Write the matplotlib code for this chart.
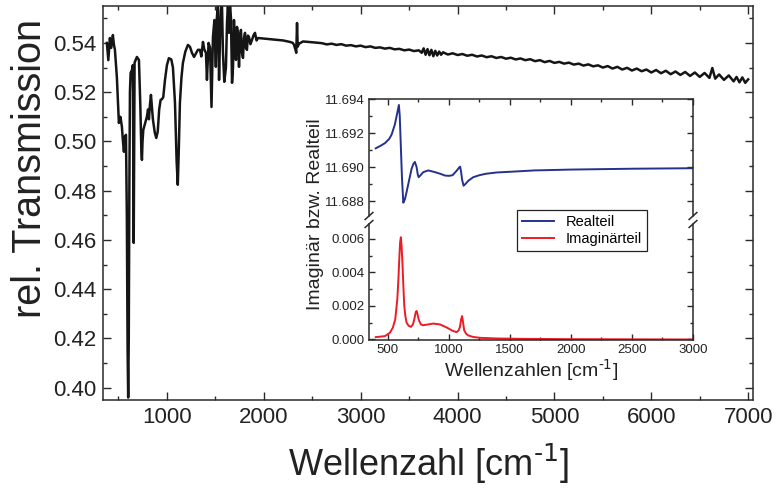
import matplotlib
matplotlib.use("Agg")
import matplotlib.pyplot as plt
from matplotlib.ticker import MultipleLocator, FormatStrFormatter

plt.rcParams["font.family"] = ["Liberation Sans", "DejaVu Sans"]
plt.rcParams["mathtext.default"] = "regular"

# Transmission spectrum (wavenumber in cm^-1, relative transmission)
wn_main = [
    380, 395, 411, 425, 442, 452, 463, 483, 504, 520, 535, 546, 556, 566, 577,
    586, 594, 600, 606, 612, 618, 625, 639, 648, 653, 657, 661, 666, 690, 711,
    725, 736, 742, 748, 756, 775, 793, 805, 814, 825, 835, 845, 855, 875, 890,
    905, 920, 935, 950, 962, 980, 1000, 1020, 1045, 1062, 1083, 1100, 1112, 1122,
    1134, 1150, 1165, 1190, 1217, 1238, 1258, 1280, 1300, 1320, 1341, 1355, 1372,
    1385, 1403, 1413, 1430, 1445, 1460, 1475, 1490, 1505, 1515, 1527, 1538, 1548,
    1558, 1568, 1578, 1592, 1609, 1620, 1630, 1640, 1651, 1661, 1672, 1682, 1692,
    1703, 1713, 1723, 1733, 1744, 1754, 1764, 1775, 1785, 1796, 1806, 1816, 1826,
    1836, 1847, 1862, 1878, 1893, 1909, 1925, 1940, 1990, 2033, 2100, 2136, 2200,
    2271, 2300, 2312, 2325, 2335, 2343, 2350, 2364, 2405, 2500, 2550,
    2600, 2650, 2700, 2750, 2800, 2850, 2900, 2950, 3000, 3050, 3100, 3150, 3200,
    3250, 3300, 3350, 3400, 3450, 3500, 3550, 3600, 3630, 3650, 3670, 3690, 3710,
    3730, 3750, 3770, 3790, 3810, 3830, 3850, 3900, 3950, 4000, 4050, 4100, 4150,
    4200, 4250, 4300, 4350, 4400, 4450, 4500, 4550, 4600, 4650, 4700, 4750, 4800,
    4850, 4900, 4950, 5000, 5050, 5100, 5150, 5200, 5250, 5300, 5350, 5400, 5450,
    5500, 5550, 5600, 5650, 5700, 5750, 5800, 5850, 5900, 5950, 6000, 6050, 6100,
    6150, 6200, 6250, 6300, 6350, 6400, 6450, 6500, 6550, 6600, 6630, 6660, 6700,
    6750, 6800, 6850, 6880, 6910, 6940, 6970, 7000,
]
trans_main = [
    .5400, .5330, .5420, .5380, .5432, .5395, .5372, .5262, .5075, .5100, .5060,
    .5000, .4958, .5020, .5027, .4700, .4150, .3960, .4200, .4800, .5200, .5278,
    .5290, .5310, .4900, .4588, .4950, .5320, .5343, .5331, .5150, .4960, .4925,
    .5000, .5047, .5075, .5100, .5130, .5090, .5150, .5189, .5140, .5090, .5035,
    .5014, .5040, .5130, .5169, .5172, .5180, .5250, .5310, .5338, .5333, .5300,
    .5157, .4920, .4824, .4960, .5157, .5260, .5319, .5365, .5392, .5384, .5360,
    .5343, .5358, .5372, .5372, .5345, .5404, .5375, .5359, .5250, .5400, .5380,
    .5140, .5424, .5493, .5303, .5500, .5560, .5250, .5420, .5534, .5560, .5363,
    .5242, .5300, .5480, .5560, .5441, .5560, .5500, .5238, .5300, .5493, .5380,
    .5331, .5465, .5440, .5303, .5420, .5453, .5360, .5339, .5420, .5441, .5380,
    .5372, .5430, .5424, .5395, .5412, .5430, .5441, .5410, .5420, .5418, .5416,
    .5414, .5412, .5410, .5404, .5400, .5392, .5375, .5360, .5481, .5385, .5397,
    .5406, .5403, .5401,
    .5399, .5394, .5397, .5392, .5395, .5389, .5391, .5386, .5389, .5383, .5386,
    .5380, .5382, .5377, .5380, .5374, .5376, .5370, .5373, .5367, .5370, .5360,
    .5378, .5352, .5375, .5350, .5372, .5346, .5368, .5349, .5365, .5352, .5362,
    .5353, .5358, .5351, .5355, .5348, .5352, .5345, .5349, .5342, .5346, .5339,
    .5343, .5336, .5340, .5333, .5337, .5330, .5334, .5326, .5330, .5322, .5327,
    .5319, .5323, .5316, .5320, .5312, .5316, .5308, .5313, .5305, .5309, .5300,
    .5306, .5296, .5303, .5292, .5299, .5288, .5296, .5285, .5292, .5280, .5290,
    .5277, .5287, .5273, .5284, .5270, .5282, .5266, .5280, .5262, .5278, .5258,
    .5298, .5255, .5272, .5250, .5268, .5244, .5262, .5240, .5260, .5238, .5252,
]

# Dielectric function from the fit (inset)
wn_fit = [
    400, 440, 475, 510, 530, 557, 577, 590, 597, 604, 615, 626, 639, 652, 667,
    694, 710, 721, 735, 745, 752, 765, 790, 831, 885, 930, 967, 1000, 1030, 1063,
    1085, 1092, 1100, 1108, 1120, 1135, 1160, 1199, 1250, 1300, 1391, 1500, 1700,
    2000, 2500, 3000,
]
eps_real = [
    11.69110, 11.69125, 11.69140, 11.69165, 11.69190, 11.69250, 11.69320,
    11.69365, 11.69300, 11.69160, 11.68940, 11.68790, 11.68810, 11.68850,
    11.68900, 11.68990, 11.69020, 11.69030, 11.69000, 11.68955, 11.68940,
    11.68950, 11.68970, 11.68980, 11.68970, 11.68960, 11.68950, 11.68948,
    11.68952, 11.68978, 11.68998, 11.69002, 11.68970, 11.68925, 11.68890,
    11.68900, 11.68920, 11.68940, 11.68952, 11.68960, 11.68968, 11.68972,
    11.68980, 11.68985, 11.68990, 11.68993,
]
wn_imag = [
    400, 475, 516, 540, 560, 577, 586, 593, 600, 606, 612, 620, 627, 634, 643,
    653, 670, 689, 705, 716, 727, 735, 743, 750, 757, 770, 789, 830, 871, 926,
    981, 1030, 1063, 1080, 1090, 1100, 1108, 1116, 1125, 1140, 1158, 1200, 1254,
    1400, 1600, 2000, 2500, 3000,
]
eps_imag = [
    0.00014, 0.00020, 0.00040, 0.00070, 0.00120, 0.00240, 0.00360, 0.00480,
    0.00580, 0.00610, 0.00560, 0.00440, 0.00310, 0.00200, 0.00140, 0.00100,
    0.00082, 0.00075, 0.00090, 0.00120, 0.00160, 0.00170, 0.00150, 0.00125,
    0.00110, 0.00090, 0.00085, 0.00090, 0.00095, 0.00090, 0.00072, 0.00052,
    0.00044, 0.00055, 0.00075, 0.00120, 0.00140, 0.00100, 0.00055, 0.00035,
    0.00024, 0.00015, 0.00010, 0.00006, 0.00004, 0.00002, 0.00001, 0.00000,
]

W, H = 776, 488
fig = plt.figure(figsize=(W / 100, H / 100), dpi=100)


def frac(x0, y0, x1, y1):
    # pixel box -> figure fraction [left, bottom, width, height]
    return [x0 / W, 1 - y1 / H, (x1 - x0) / W, (y1 - y0) / H]


spine_col = "#2a2a2a"
text_col = "#222222"

def style_ticks(ax, size, major_len, minor_len, pad):
    ax.tick_params(which="both", direction="in", top=True, right=True,
                   colors=spine_col, labelcolor=text_col, labelsize=size, pad=pad)
    ax.tick_params(which="major", length=major_len, width=1.0)
    ax.tick_params(which="minor", length=minor_len, width=1.0)
    for s in ax.spines.values():
        s.set_color(spine_col)
        s.set_linewidth(1.1)


# main spectrum
ax = fig.add_axes(frac(103, 6, 753, 400))
ax.plot(wn_main, trans_main, color="#151515", lw=1.8)
ax.set_xlim(340, 7050)
ax.set_ylim(0.395, 0.555)
ax.xaxis.set_major_locator(MultipleLocator(1000))
ax.xaxis.set_minor_locator(MultipleLocator(500))
ax.yaxis.set_major_locator(MultipleLocator(0.02))
ax.yaxis.set_minor_locator(MultipleLocator(0.01))
ax.yaxis.set_major_formatter(FormatStrFormatter("%.2f"))
style_ticks(ax, 16, 6, 3, 5)
ax.set_xlabel(r"Wellenzahl [cm$^{\text{-1}}$]", fontsize=26, labelpad=10, color=text_col)
fig.text(30 / W, 1 - 168 / H, "rel. Transmission", rotation=90,
         ha="center", va="center", fontsize=28.5, color=text_col)

# inset: broken y axis, real part on top, imaginary part below
ax_re = fig.add_axes(frac(369, 99, 693, 216))
ax_im = fig.add_axes(frac(369, 224, 693, 340))
for a in (ax_re, ax_im):
    a.set_facecolor("white")
    a.set_xlim(345, 3000)
    a.xaxis.set_major_locator(MultipleLocator(500))
    a.xaxis.set_minor_locator(MultipleLocator(250))
    style_ticks(a, 9.5, 4, 2, 3)

ax_re.plot(wn_fit, eps_real, color="#24318f", lw=1.4, label="Realteil")
ax_re.set_ylim(11.68712, 11.694)
ax_re.yaxis.set_major_locator(MultipleLocator(0.002))
ax_re.yaxis.set_minor_locator(MultipleLocator(0.001))
ax_re.yaxis.set_major_formatter(FormatStrFormatter("%.3f"))
ax_re.spines["bottom"].set_visible(False)
ax_re.tick_params(which="both", bottom=False, labelbottom=False)

ax_im.plot(wn_imag, eps_imag, color="#ec1c24", lw=1.4, label="Imaginärteil")
ax_im.set_ylim(-0.00003, 0.00689)
ax_im.yaxis.set_major_locator(MultipleLocator(0.002))
ax_im.yaxis.set_minor_locator(MultipleLocator(0.001))
ax_im.yaxis.set_major_formatter(FormatStrFormatter("%.3f"))
ax_im.spines["top"].set_visible(False)
ax_im.tick_params(which="both", top=False)
ax_im.set_xlabel(r"Wellenzahlen [cm$^{\text{-1}}$]", fontsize=14, labelpad=1, color=text_col)

# break marks on both vertical spines
for xa in (0, 1):
    for a, ya in ((ax_re, 0), (ax_im, 1)):
        a.plot([xa - 0.012, xa + 0.012], [ya - 0.03, ya + 0.03],
               transform=a.transAxes, color=spine_col, lw=1.1, clip_on=False)

fig.text(316 / W, 1 - 214 / H, "Imaginär bzw. Realteil", rotation=90,
         ha="center", va="center", fontsize=14, color=text_col)

handles = ax_re.get_lines()[:1] + ax_im.get_lines()[:1]
leg = fig.legend(handles, [h.get_label() for h in handles], loc="upper left",
                 bbox_to_anchor=(517 / W, 1 - 210 / H), borderaxespad=0,
                 fontsize=10.5, fancybox=False, framealpha=1, edgecolor=text_col,
                 handlelength=2.2, borderpad=0.35, labelspacing=0.2)
leg.get_frame().set_linewidth(0.9)

fig.savefig("out.png", dpi=100)
